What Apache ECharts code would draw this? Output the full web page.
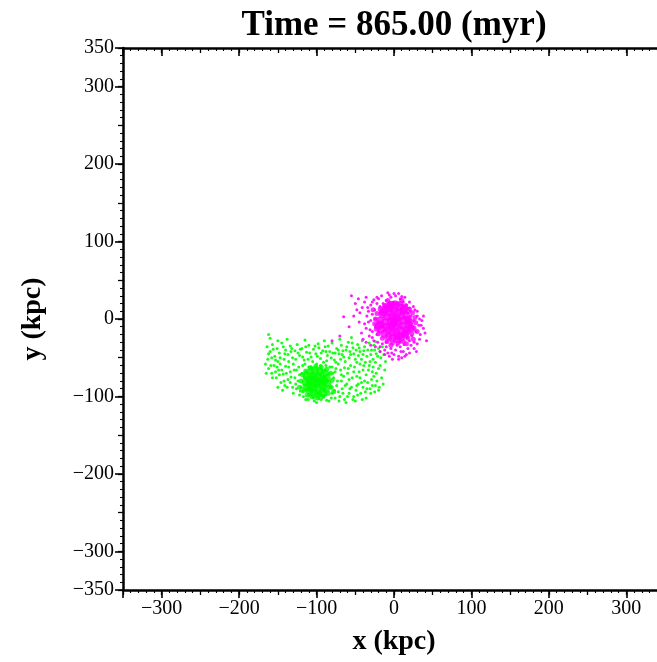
<!DOCTYPE html>
<html><head><meta charset="utf-8">
<script src="https://cdn.jsdelivr.net/npm/echarts@6/dist/echarts.min.js"></script>
<style>html,body{margin:0;padding:0;background:#fff}#c{width:657px;height:662px}</style>
</head><body><div id="c"></div>
<script>
const titleText = 'Time = 865.00 (myr)';
const xName = 'x (kpc)';
const yName = 'y (kpc)';
const xTickLabels = [-300,-200,-100,0,100,200,300];
const yTickLabels = [-350,-300,-200,-100,0,100,200,300,350];
const majorTicks = [-350,-300,-200,-100,0,100,200,300,350];

// magenta galaxy: dense core
const magentaCore = [
[-18,-2],[-15,6],[-12,12],[-8,16],[-3,18],[2,17],[7,15],[12,11],[16,5],[18,-1],[19,-8],[17,-14],[14,-20],[9,-24],[4,-26],[-2,-25],[-7,-23],[-12,-19],[-16,-13],[-18,-7],
[-11,-4],[-9,3],[-5,8],[0,10],[5,8],[9,4],[11,-2],[11,-9],[8,-14],[3,-17],[-2,-17],[-7,-14],[-10,-10],
[-4,-3],[-2,2],[3,1],[5,-4],[2,-9],[-3,-9],[0,-5],[1,-1],[-1,-6],
[20,-4],[-20,-9],[15,-18],[-14,9],[6,-22],[-6,14],[22,-12],[13,13]
];
// magenta galaxy: fringe of the core
const magentaFringe = [
[28,-5],[27,2],[24,8],[20,13],[15,17],[8,20],[2,21],[-5,20],[-12,17],[-18,13],[-22,7],[-24,0],[-25,-6],[-23,-13],[-20,-19],[-15,-25],[-9,-29],[-2,-31],[5,-31],[12,-29],[18,-25],[23,-19],[26,-12],
[25,-26],[-27,12],[10,24],[-8,24],[30,-16],[-4,-34],[16,-32]
];
// magenta galaxy: outer halo
const magentaHalo = [
[-10,24],[-4,28],[2,30],[8,26],[-14,20],[12,22],[-1,22],[5,21],[-7,20],[16,18],[-18,16],[0,33],[-6,31],[10,29],[19,14],
[-25,12],[-30,18],[-38,22],[-46,26],[-22,20],[-28,6],[-33,10],[-41,15],[-35,4],[-24,0],[-50,20],[-44,8],[-30,-2],[-26,25],[-20,26],
[-24,-10],[-28,-16],[-32,-22],[-22,-20],[-26,-28],[-36,-12],[-40,-26],[-21,-30],[-30,-34],
[-15,-32],[-10,-36],[-4,-38],[2,-40],[8,-36],[13,-33],[-8,-44],[0,-46],[6,-48],[12,-42],[18,-38],[-12,-40],[-2,-52],[4,-34],[10,-50],[16,-46],[-18,-36],
[22,4],[26,-2],[24,-10],[28,-16],[23,-22],[20,-28],[32,-8],[30,4],[34,-20],[26,-30],[36,-2],[21,10],[27,12],[22,-34],[38,-12],
[-65,3],[-58,-10],[-70,-22],[-55,30],[42,-28],[-80,-28],
[-18,8],[18,8],[-20,-16],[17,-24],[-10,-30],[8,-30],[-13,16],[11,18],
[-28,22],[-34,15],[-22,28],[-16,30],[-8,34],[6,33],[14,28],[20,22],[25,16],[30,10],[33,0],[35,-8],[33,-26],[30,-32],[26,-38],[20,-44],[14,-48],[6,-52],[-6,-48],[-12,-46],[-18,-42],[-24,-36],[-28,-24],[-31,-14],[-33,-4],[-38,-6],[-42,-18],[-36,-30],[-45,-4],[-48,12],[-52,4],[-36,28],[40,-18],[38,4],[29,-42],[-3,-44],[9,-42],[-20,-4]
];
// green galaxy: dense core
const greenCore = [
[-114,-82],[-112,-74],[-108,-68],[-102,-66],[-96,-67],[-90,-70],[-87,-76],[-86,-83],[-88,-90],[-92,-95],[-98,-97],[-104,-96],[-109,-92],[-113,-88],
[-106,-80],[-104,-74],[-98,-74],[-93,-78],[-93,-86],[-98,-90],[-104,-88],[-100,-82],[-108,-86],[-96,-82],[-102,-78],[-110,-78],[-90,-80]
];
// green galaxy: fringe of the core
const greenFringe = [
[-120,-80],[-118,-72],[-116,-92],[-112,-98],[-106,-100],[-99,-102],[-92,-100],[-85,-96],[-81,-88],[-80,-79],[-82,-70],[-87,-65],[-94,-62],[-101,-61],[-108,-63],[-114,-67],[-122,-88],[-78,-94]
];
// green galaxy: tidal stream
const greenStream = [
[-164,-36],[-160,-42],[-157,-33],[-154,-48],[-151,-38],[-148,-44],[-145,-31],[-142,-52],[-140,-40],[-137,-46],[-134,-35],[-131,-50],[-128,-41],[-125,-33],[-122,-47],[-119,-38],[-116,-53],[-113,-43],[-110,-34],[-107,-49],[-104,-39],[-101,-45],[-98,-32],[-95,-51],[-92,-41],[-89,-36],[-86,-47],[-83,-42],[-80,-31],[-77,-53],[-74,-38],[-71,-45],[-68,-34],[-65,-49],[-62,-40],[-59,-30],[-56,-46],[-53,-37],[-50,-52],[-47,-33],[-44,-42],[-41,-28],[-38,-36],[-35,-48],[-32,-31],[-29,-40],[-26,-34],[-23,-45],[-20,-38],[-17,-50],
[-158,-50],[-150,-55],[-143,-36],[-133,-42],[-121,-39],[-111,-52],[-97,-37],[-87,-54],[-76,-44],[-66,-41],[-54,-31],[-46,-47],[-39,-41],[-31,-55],[-24,-29],
[-162,-20],[-138,-26],[-150,-28],[-115,-27],[-90,-28],[-70,-26],[-55,-24],[-160,-25],
[-166,-58],[-162,-64],[-158,-70],[-155,-60],[-152,-76],[-149,-66],[-146,-82],[-143,-71],[-140,-61],[-137,-78],[-150,-88],[-144,-92],[-138,-88],[-134,-68],[-165,-70],[-153,-68],[-147,-58],
[-130,-58],[-126,-66],[-122,-72],[-118,-60],[-114,-68],[-110,-62],[-106,-70],[-100,-58],[-94,-64],[-88,-60],[-84,-70],[-80,-62],[-76,-68],[-72,-58],[-68,-72],[-64,-63],[-60,-70],[-56,-60],[-52,-68],[-48,-74],[-44,-58],[-40,-66],[-36,-72],[-32,-60],[-28,-68],[-24,-56],[-20,-64],[-128,-76],[-90,-74],[-58,-78],[-38,-80],
[-124,-80],[-120,-88],[-118,-94],[-116,-76],[-112,-84],[-110,-98],[-108,-90],[-106,-78],[-104,-102],[-102,-86],[-98,-96],[-96,-72],[-94,-104],[-92,-84],[-90,-92],[-88,-98],[-86,-80],[-84,-106],[-82,-88],[-80,-96],[-78,-76],[-76,-102],[-74,-86],[-72,-94],[-126,-90],[-122,-98],[-114,-104],[-100,-108],[-130,-96],[-134,-82],
[-70,-100],[-67,-90],[-64,-104],[-61,-84],[-58,-96],[-55,-88],[-52,-100],[-49,-92],[-46,-84],[-43,-96],[-40,-88],[-37,-94],[-34,-82],[-31,-90],[-28,-86],[-25,-94],[-22,-80],[-19,-88],[-16,-76],[-62,-108],[-50,-106],[-36,-102],[-68,-80],[-44,-76],[-26,-74],
[-162,-45],[-156,-39],[-153,-53],[-147,-50],[-141,-45],[-136,-55],[-132,-38],[-127,-52],[-124,-44],[-118,-49],[-114,-36],[-109,-44],[-105,-55],[-102,-35],[-99,-48],[-94,-44],[-91,-56],[-88,-42],[-85,-35],[-81,-50],[-79,-44],[-75,-56],[-72,-40],[-69,-52],[-67,-46],[-63,-55],[-61,-36],[-58,-50],[-57,-42],[-52,-45],[-49,-40],[-48,-56],[-45,-37],[-42,-52],[-40,-46],[-37,-56],[-34,-40],[-30,-46],[-27,-52],[-25,-40],[-21,-48],[-18,-42],[-15,-36],[-13,-46],[-11,-55],
[-163,-52],[-159,-60],[-157,-76],[-151,-62],[-148,-72],[-145,-66],[-142,-80],[-141,-86],[-139,-70],[-136,-62],[-133,-75],[-131,-88],[-129,-66],[-127,-84],[-123,-62],[-121,-93],[-119,-70],[-117,-100],[-115,-58],[-111,-104],[-107,-62],[-103,-106],[-97,-103],[-95,-60],[-91,-100],[-89,-66],[-87,-105],[-83,-62],[-81,-102],[-79,-70],[-77,-92],[-75,-64],[-73,-80],[-71,-106],[-69,-66],[-66,-96],[-65,-74],[-63,-86],[-60,-100],[-59,-64],[-57,-90],[-54,-76],[-53,-104],[-51,-62],[-48,-86],[-47,-98],[-45,-68],[-42,-82],[-41,-104],[-39,-60],[-35,-90],[-33,-66],[-30,-96],[-29,-78],[-27,-62],[-24,-86],[-23,-70],[-20,-92],[-18,-60],[-14,-84],[-12,-66]
];

const FONT = 'Liberation Serif';
const fmt = v => (v < 0 ? '\u2212' + (-v) : String(v));
const RANGE = {min: -350, max: 350};

function majorAxis(pos, inside, isX, withLabels, name) {
  const ax = {
    type: 'value', position: pos, min: RANGE.min, max: RANGE.max,
    splitLine: {show: false},
    axisLine: {show: true, onZero: false, lineStyle: {color: '#000', width: 2.5}},
    axisTick: {show: true, inside: inside, length: 8, customValues: majorTicks, lineStyle: {color: '#000', width: 1.6}},
    axisLabel: {show: withLabels, customValues: isX ? xTickLabels : yTickLabels, formatter: fmt,
      fontFamily: FONT, fontSize: 20, color: '#000', margin: 9},
  };
  if (name) {
    ax.name = name; ax.nameLocation = 'middle';
    ax.nameTextStyle = {fontFamily: FONT, fontWeight: 'bold', fontSize: 28, color: '#000'};
    ax.nameGap = isX ? 38 : 76;
    if (!isX) ax.nameRotate = 90;
  }
  return ax;
}
function minorAxis(pos, inside) {
  return {
    type: 'value', position: pos, min: RANGE.min, max: RANGE.max, interval: 50,
    splitLine: {show: false},
    axisLine: {show: false, onZero: false},
    axisTick: {show: true, inside: inside, length: 5, lineStyle: {color: '#000', width: 1.3}},
    minorTick: {show: true, splitNumber: 5, length: 3, lineStyle: {color: '#000', width: 1.1}},
    axisLabel: {show: false}
  };
}

const chart = echarts.init(document.getElementById('c'), null, {renderer: 'canvas'});
chart.setOption({
  animation: false,
  backgroundColor: '#fff',
  title: {text: titleText, left: 389, top: 3, textAlign: 'center',
    textStyle: {fontFamily: FONT, fontWeight: 'bold', fontSize: 35, color: '#000'}},
  grid: {left: 123, top: 48, width: 542, height: 542, containLabel: false, outerBoundsMode: 'none'},
  xAxis: [
    majorAxis('bottom', false, true, true, xName),
    minorAxis('bottom', false),
    majorAxis('top', true, true, false),
    minorAxis('top', true)
  ],
  yAxis: [
    majorAxis('left', false, false, true, yName),
    minorAxis('left', false),
    majorAxis('right', true, false, false),
    minorAxis('right', true)
  ],
  series: [
    {type: 'scatter', name: 'green stream', data: greenStream, symbolSize: 3, itemStyle: {color: '#00ff00', opacity: 0.9}, silent: true},
    {type: 'scatter', name: 'green fringe', data: greenFringe, symbolSize: 5, itemStyle: {color: '#00ff00'}, silent: true},
    {type: 'scatter', name: 'green core', data: greenCore, symbolSize: 8, itemStyle: {color: '#00ff00'}, silent: true},
    {type: 'scatter', name: 'magenta halo', data: magentaHalo, symbolSize: 3, itemStyle: {color: '#ff00ff', opacity: 0.9}, silent: true},
    {type: 'scatter', name: 'magenta fringe', data: magentaFringe, symbolSize: 5, itemStyle: {color: '#ff00ff'}, silent: true},
    {type: 'scatter', name: 'magenta core', data: magentaCore, symbolSize: 8, itemStyle: {color: '#ff00ff'}, silent: true}
  ]
});
</script>
</body></html>
